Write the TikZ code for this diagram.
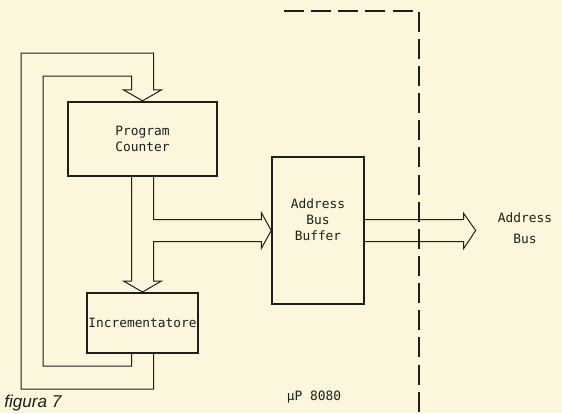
\documentclass[tikz,border=0pt]{standalone}
\usepackage{fontspec}
\newfontfamily\monofont{DejaVu Sans Mono}
\newfontfamily\captfont{Liberation Sans}
\usetikzlibrary{calc}
\definecolor{paper}{RGB}{250,247,221}
\definecolor{ink}{RGB}{30,30,30}

\begin{document}
\begin{tikzpicture}[
  x=0.7pt, y=-0.7pt,
  block/.style={rectangle, draw=ink, line width=1.4pt, inner sep=0pt, font=\monofont\fontsize{9}{11}\selectfont, align=center, text=ink},
  bus/.style={draw=ink, line width=0.7pt},
  label/.style={font=\monofont\fontsize{9}{11}\selectfont, align=center, text=ink},
  border/.style={draw=ink, line width=1.4pt, dash pattern=on 14pt off 5pt},
]
  \fill[paper] (0,0) rectangle (562,413);
  \useasboundingbox (0,0) rectangle (562,413);

  \node[block, minimum width=104pt, minimum height=52pt] (pc) at (142.5,139) {Program\\Counter};
  \node[block, minimum width=78pt, minimum height=42pt] (inc) at (142.5,323) {Incrementatore};
  \node[block, minimum width=64pt, minimum height=103pt] (abb) at (318,230.5) {Address\\Bus\\Buffer\\[4pt]};
  \node[label] (extbus) at (525,228) {Address\\[4pt]Bus};
  \node[label] (cpu) at (314,397) {μP 8080};
  \node[font=\captfont\itshape\fontsize{12}{14}\selectfont, text=ink, anchor=base west, inner sep=0pt] (fig) at (4,407) {figura 7};

  % program counter -> incrementatore, branch to the buffer
  \draw[bus] ($(pc.south)+(-11,0)$) -- ($(inc.north)+(-11,-11)$) -- ++(-8,0) -- (inc.north)
    -- ($(inc.north)+(19,-11)$) -- ++(-8,0) |- ($(abb.west)+(-10,11)$) -- ++(0,7) -- (abb.west)
    -- ($(abb.west)+(-10,-18)$) -- ++(0,7) -| ($(pc.south)+(11,0)$);

  % incrementatore -> program counter
  \draw[bus] ($(inc.south)+(-11,0)$) -- ++(0,12) -| (43,76) -| ($(pc.north)+(-11,-11)$) -- ++(-8,0) -- (pc.north)
    -- ($(pc.north)+(19,-11)$) -- ++(-8,0) |- (21,53) |- ($(inc.south)+(11,35)$) -- ($(inc.south)+(11,0)$);

  % buffer -> external bus
  \draw[bus] ($(abb.east)+(0,-11)$) -- ($(abb.east)+(99,-11)$) -- ++(0,-6) -- ($(abb.east)+(111,0)$)
    -- ++(-12,18) -- ++(0,-7) -- ($(abb.east)+(0,11)$);

  % chip boundary
  \draw[border] (284,11) -| (419,416);
\end{tikzpicture}
\end{document}
